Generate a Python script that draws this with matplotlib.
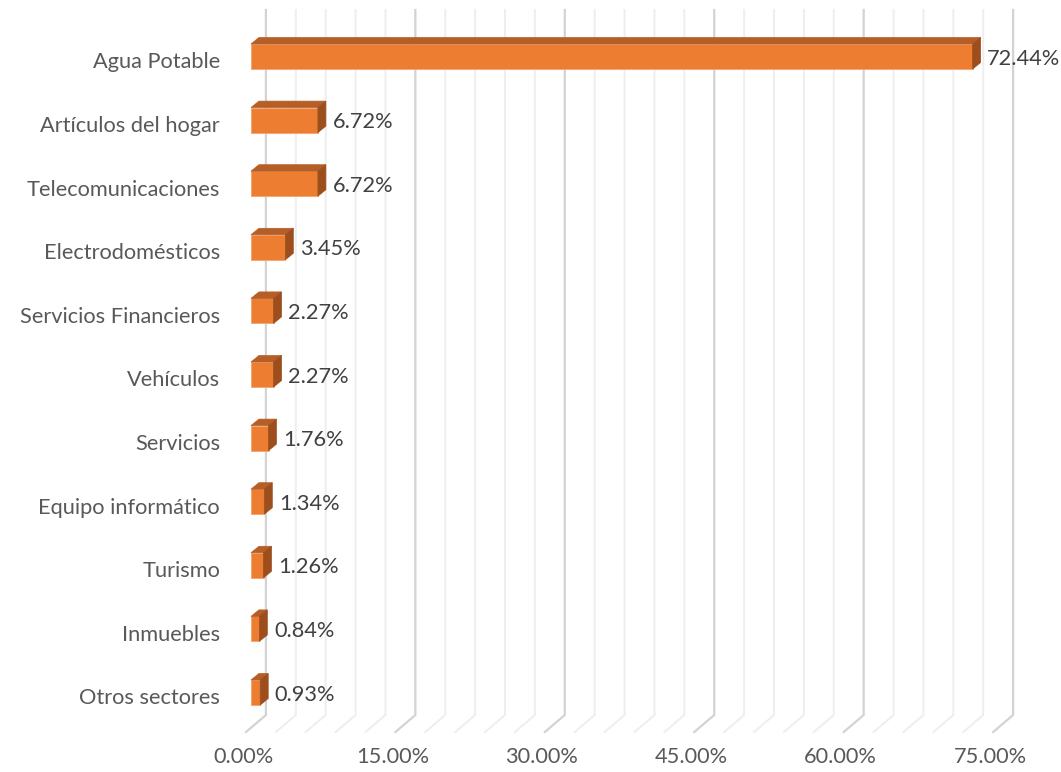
import matplotlib.pyplot as plt
from matplotlib.patches import Polygon
import matplotlib.transforms as mtransforms

# ---------------- DATA ----------------
categories = [
    "Agua Potable", "Artículos del hogar", "Telecomunicaciones", "Electrodomésticos",
    "Servicios Financieros", "Vehículos", "Servicios", "Equipo informático",
    "Turismo", "Inmuebles", "Otros sectores",
]
values = [72.44, 6.72, 6.72, 3.45, 2.27, 2.27, 1.76, 1.34, 1.26, 0.84, 0.93]
x_ticks = [0, 15, 30, 45, 60, 75]
x_tick_labels = ["0.00%", "15.00%", "30.00%", "45.00%", "60.00%", "75.00%"]

FONT = ["Lato", "DejaVu Sans"]
FS = 15.7
FRONT = "#ED7D31"
TOP = "#B65E27"
SIDE = "#9C4E1D"

# pixel layout helpers (figure is 1061x772 at dpi 100)
W, H = 1061, 772
row_px = 63.6          # distance between categories
pct_px = 10.0          # pixels per 1 %
y0_px = 56.5           # centre of first bar (from top)

fig = plt.figure(figsize=(W / 100, H / 100), dpi=100)
ax = fig.add_axes([243 / W, (H - 740) / H, 800 / W, 740 / H])
ax.set_xlim(-0.5, 79.5)
ax.set_ylim((740 - y0_px) / row_px, -y0_px / row_px)
for s in ax.spines.values():
    s.set_visible(False)


def py(p):
    # figure pixel row -> category units
    return (p - y0_px) / row_px


# ---------------- 3D GRID ----------------
y_front, y_back, y_top = py(732), py(715), py(10)
for k in range(0, 76, 3):
    major = k % 15 == 0
    col = "#d3d3d3" if major else "#eeeeee"
    lw = 1.6 if major else 1.4
    xf, xb = k - 0.5, k + 1.5
    ax.plot([xf, xb, xb], [y_front, y_back, y_top], color=col, lw=lw,
            solid_joinstyle="miter", zorder=1)

# ---------------- 3D BARS ----------------
bh = 25 / row_px
dx = 8 / pct_px
dy = 6.5 / row_px
ypos = list(range(len(categories)))

ax.barh(ypos, values, height=bh, left=0, color=FRONT, edgecolor="#F2A675",
        linewidth=0.6, zorder=3)
for i, v in zip(ypos, values):
    top_y = i - bh / 2
    bot_y = i + bh / 2
    ax.add_patch(Polygon([(0, top_y), (v, top_y), (v + dx, top_y - dy), (dx, top_y - dy)],
                         closed=True, facecolor=TOP, edgecolor=TOP, lw=0.5, zorder=3))
    ax.add_patch(Polygon([(v, top_y), (v + dx, top_y - dy), (v + dx, bot_y - dy), (v, bot_y)],
                         closed=True, facecolor=SIDE, edgecolor=SIDE, lw=0.5, zorder=3))
    ax.annotate(f"{v:.2f}%", xy=(v, i), xytext=(10.5, -1.5), textcoords="offset points",
                ha="left", va="center", fontsize=FS, color="#404040", family=FONT,
                zorder=4)

# ---------------- AXES TEXT ----------------
ax.set_yticks(ypos)
ax.set_yticklabels(categories, fontsize=FS, color="#595959", family=FONT)
ax.tick_params(axis="y", length=0, pad=16.5)
shift = mtransforms.ScaledTranslation(0, -4 / 100, fig.dpi_scale_trans)
for lab in ax.get_yticklabels():
    lab.set_transform(lab.get_transform() + shift)

ax.set_xticks([k - 0.8 for k in x_ticks])
ax.set_xticklabels(x_tick_labels, fontsize=FS, color="#595959", family=FONT)
ax.tick_params(axis="x", length=0, pad=5)

fig.savefig("out.png", dpi=100)
